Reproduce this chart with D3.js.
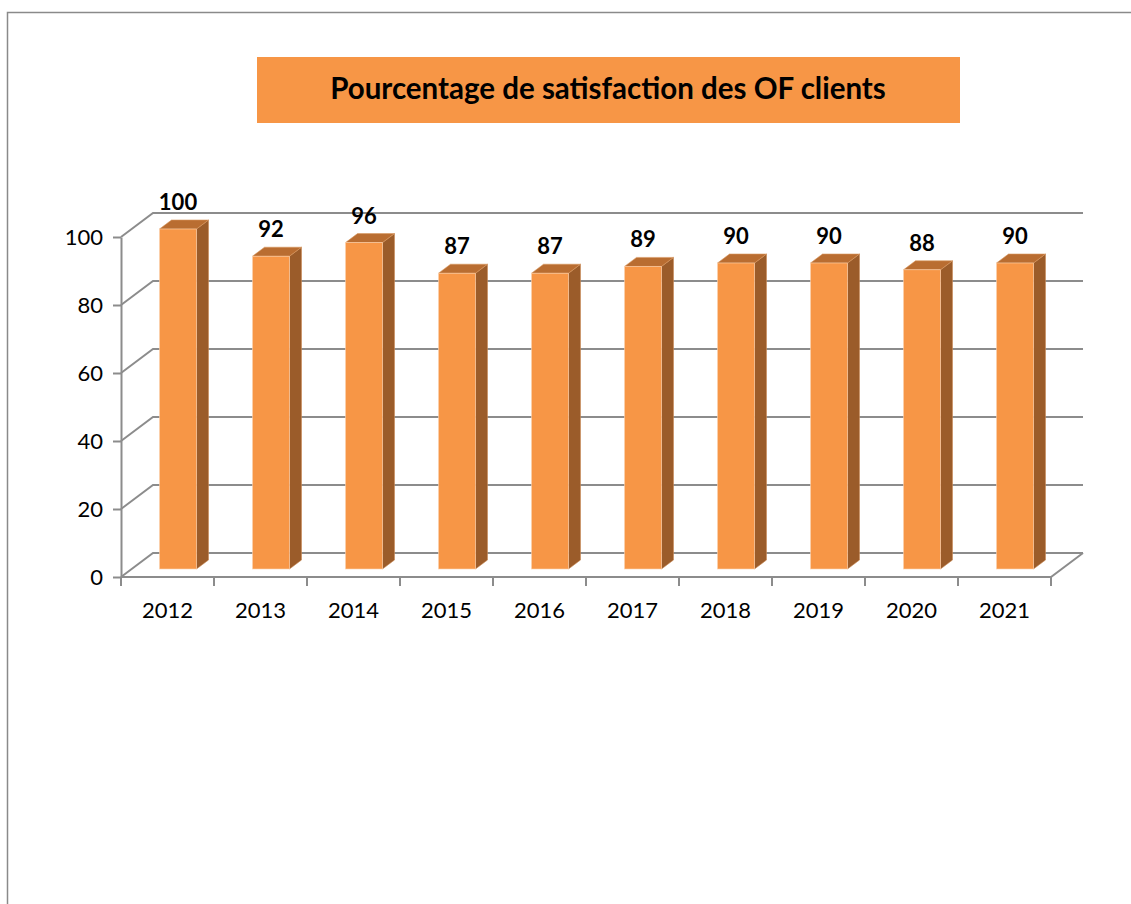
<!DOCTYPE html>
<html>
<head>
<meta charset="utf-8">
<script src="https://cdn.jsdelivr.net/npm/d3@7"></script>
<style>
  body { margin: 0; background: #fff; }
  svg text { font-family: Lato, "Open Sans", sans-serif; }
</style>
</head>
<body>
<div id="chart"></div>
<script>
// data
var years = ["2012", "2013", "2014", "2015", "2016", "2017", "2018", "2019", "2020", "2021"];
var values = [100, 92, 96, 87, 87, 89, 90, 90, 88, 90];
var yTicks = [0, 20, 40, 60, 80, 100];
var title = "Pourcentage de satisfaction des OF clients";

var w = 1131, h = 904;

var svg = d3.select("#chart").append("svg")
    .attr("width", w)
    .attr("height", h);

// outer frame (runs off right / bottom)
svg.append("rect")
    .attr("x", 7.5).attr("y", 12.5)
    .attr("width", 1300).attr("height", 1000)
    .attr("fill", "none")
    .attr("stroke", "#8a8a8a")
    .attr("stroke-width", 1.5);

// title box
svg.append("rect")
    .attr("x", 257).attr("y", 57)
    .attr("width", 703).attr("height", 66)
    .attr("fill", "#f79646");
svg.append("text")
    .attr("x", 608).attr("y", 99)
    .attr("text-anchor", "middle")
    .style("font-size", "29.5px")
    .style("font-weight", "bold")
    .attr("fill", "#000")
    .text(title);

// scales
var x = d3.scaleBand().domain(years).range([121, 1051]);
var y = d3.scaleLinear().domain([0, 100]).range([577, 237]);

// 3d offsets
var depthX = 32, depthY = -24;          // back wall offset
var barOffX = 10.5, barOffY = -8;       // bar front plane
var barDX = 12, barDY = -9;             // bar depth
var barW = 37;

var grid = svg.append("g")
    .attr("stroke", "#8c8c8c")
    .attr("stroke-width", 2)
    .attr("fill", "none");

// grid lines: diagonal from front axis, then along the back wall
yTicks.forEach(function (t) {
    var fx = x.range()[0], fy = y(t);
    grid.append("path")
        .attr("d", "M" + fx + "," + fy +
            "L" + (fx + depthX) + "," + (fy + depthY) +
            "L" + (x.range()[1] + depthX) + "," + (fy + depthY));
});

// floor front edge and right side
grid.append("path")
    .attr("d", "M" + x.range()[0] + "," + y(0) +
        "L" + x.range()[1] + "," + y(0) +
        "L" + (x.range()[1] + depthX) + "," + (y(0) + depthY));

// x ticks at band boundaries
var bounds = years.map(function (d) { return x(d); }).concat([x.range()[1]]);
grid.selectAll(".xt")
    .data(bounds)
    .enter()
    .append("line")
    .attr("x1", function (d) { return d; })
    .attr("x2", function (d) { return d; })
    .attr("y1", y(0))
    .attr("y2", y(0) + 9);

// y axis
var yAxis = svg.append("g")
    .attr("transform", "translate(" + x.range()[0] + ",0)")
    .call(d3.axisLeft(y).tickValues(yTicks).tickSize(8).tickSizeOuter(0).tickPadding(10));
yAxis.select(".domain").attr("stroke", "#8c8c8c").attr("stroke-width", 2);
yAxis.selectAll(".tick line").attr("stroke", "#8c8c8c").attr("stroke-width", 2);
yAxis.selectAll(".tick text")
    .attr("fill", "#000")
    .style("font-size", "22px")
    .style("font-family", "Lato, 'Open Sans', sans-serif");

// x labels
svg.selectAll(".xl")
    .data(years)
    .enter()
    .append("text")
    .attr("x", function (d) { return x(d) + x.bandwidth() / 2; })
    .attr("y", 618)
    .attr("text-anchor", "middle")
    .style("font-size", "22px")
    .attr("fill", "#000")
    .text(function (d) { return d; });

// bars
var bars = svg.selectAll(".bar")
    .data(years.map(function (d, i) { return {year: d, value: values[i]}; }))
    .enter()
    .append("g");

function bx(d) { return x(d.year) + (x.bandwidth() - barW) / 2 + barOffX; }
function by(d) { return y(d.value) + barOffY; }
function b0() { return y(0) + barOffY; }

// side face
bars.append("path")
    .attr("d", function (d) {
        var x1 = bx(d) + barW;
        return "M" + x1 + "," + by(d) +
            "L" + (x1 + barDX) + "," + (by(d) + barDY) +
            "L" + (x1 + barDX) + "," + (b0() + barDY) +
            "L" + x1 + "," + b0() + "Z";
    })
    .attr("fill", "#9b5c2a")
    .attr("stroke", "#c98a55")
    .attr("stroke-width", 0.6);

// top face
bars.append("path")
    .attr("d", function (d) {
        var x0 = bx(d), yt = by(d);
        return "M" + x0 + "," + yt +
            "L" + (x0 + barDX) + "," + (yt + barDY) +
            "L" + (x0 + barW + barDX) + "," + (yt + barDY) +
            "L" + (x0 + barW) + "," + yt + "Z";
    })
    .attr("fill", "#b96d31")
    .attr("stroke", "#d9975e")
    .attr("stroke-width", 0.6);

// front face
bars.append("rect")
    .attr("x", bx)
    .attr("y", by)
    .attr("width", barW)
    .attr("height", function (d) { return b0() - by(d); })
    .attr("fill", "#f79646")
    .attr("stroke", "#fcd3b0")
    .attr("stroke-width", 0.6);

// value labels
bars.append("text")
    .attr("x", function (d) { return bx(d) + barW / 2; })
    .attr("y", function (d) { return by(d) + barDY - 10; })
    .attr("text-anchor", "middle")
    .style("font-size", "22px")
    .style("font-weight", "bold")
    .attr("fill", "#000")
    .text(function (d) { return d.value; });
</script>
</body>
</html>
